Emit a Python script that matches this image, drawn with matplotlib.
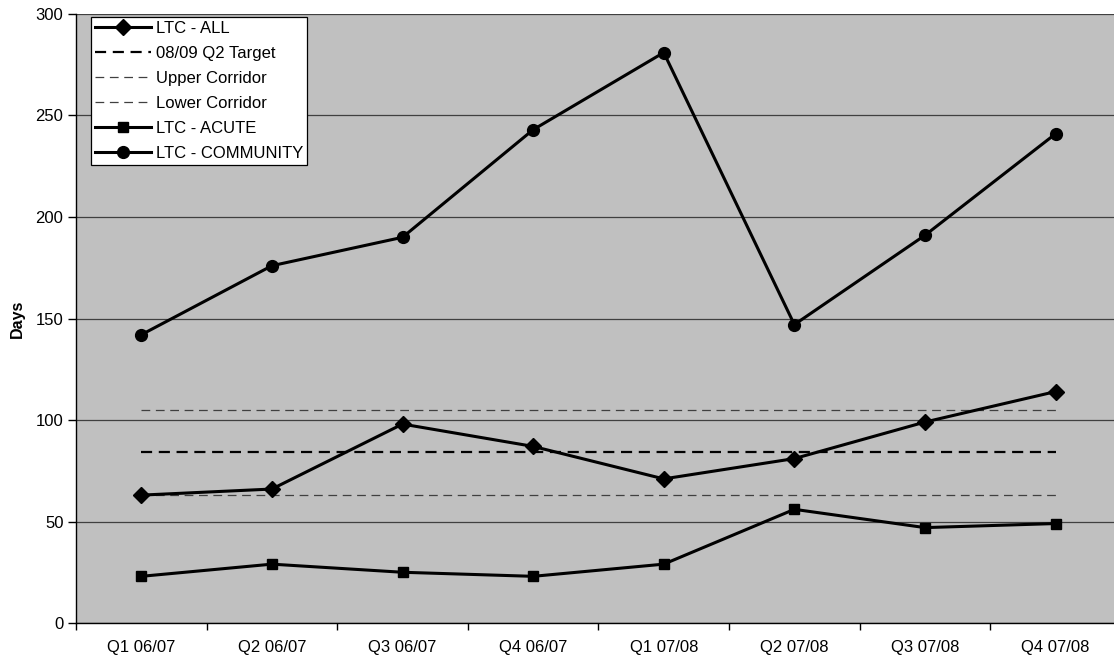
import matplotlib
matplotlib.use("Agg")
import matplotlib.pyplot as plt
import numpy as np

plt.rcParams['font.family'] = ['Liberation Sans', 'DejaVu Sans']

quarters = ["Q1 06/07", "Q2 06/07", "Q3 06/07", "Q4 06/07",
            "Q1 07/08", "Q2 07/08", "Q3 07/08", "Q4 07/08"]
ltc_all = [63, 66, 98, 87, 71, 81, 99, 114]
target = [84] * 8
upper_corridor = [105] * 8
lower_corridor = [63] * 8
ltc_acute = [23, 29, 25, 23, 29, 56, 47, 49]
ltc_community = [142, 176, 190, 243, 281, 147, 191, 241]

fig = plt.figure(figsize=(11.14, 6.63), dpi=100)
ax = fig.add_axes([0.0682, 0.0603, 0.938, 0.9186])
ax.set_facecolor("#C0C0C0")

x = np.arange(len(quarters))

ax.plot(x, ltc_all, color="black", lw=2.2, marker="D", ms=8, label="LTC - ALL", zorder=4)
ax.plot(x, target, color="black", lw=1.6, ls=(0, (5, 3)), label="08/09 Q2 Target", zorder=3)
ax.plot(x, upper_corridor, color="#404040", lw=0.9, ls=(0, (7, 4.5)), label="Upper Corridor", zorder=3)
ax.plot(x, lower_corridor, color="#404040", lw=0.9, ls=(0, (7, 4.5)), label="Lower Corridor", zorder=3)
ax.plot(x, ltc_acute, color="black", lw=2.2, marker="s", ms=7, label="LTC - ACUTE", zorder=4)
ax.plot(x, ltc_community, color="black", lw=2.2, marker="o", ms=8.5, label="LTC - COMMUNITY", zorder=4)

ax.set_xlim(-0.5, len(quarters) - 0.5)
ax.set_ylim(0, 300)
ax.set_yticks(range(0, 301, 50))
ax.set_xticks(x)
ax.set_xticklabels(quarters)
ax.set_xticks(np.arange(-0.5, len(quarters), 1.0), minor=True)
ax.tick_params(axis="x", which="major", length=0, labelsize=12, pad=12)
ax.tick_params(axis="x", which="minor", length=5, direction="out", width=1)
ax.tick_params(axis="y", length=6, width=1, labelsize=12, pad=3)

ax.yaxis.grid(True, color="#404040", lw=0.9)
ax.set_axisbelow(True)
for side in ["top", "right"]:
    ax.spines[side].set_visible(False)
for side in ["left", "bottom"]:
    ax.spines[side].set_linewidth(1.0)

ax.set_ylabel("Days", fontsize=11.5, fontweight="bold", labelpad=8)

leg = ax.legend(loc="upper left", bbox_to_anchor=(0.014, 0.995), fontsize=12,
                handlelength=3.4, handletextpad=0.25, labelspacing=0.6,
                borderpad=0.25, borderaxespad=0.0, frameon=True, fancybox=False)
leg.get_frame().set_edgecolor("black")
leg.get_frame().set_linewidth(0.9)
leg.get_frame().set_facecolor("white")
leg.get_frame().set_alpha(1.0)

fig.savefig("out.png", dpi=100)
